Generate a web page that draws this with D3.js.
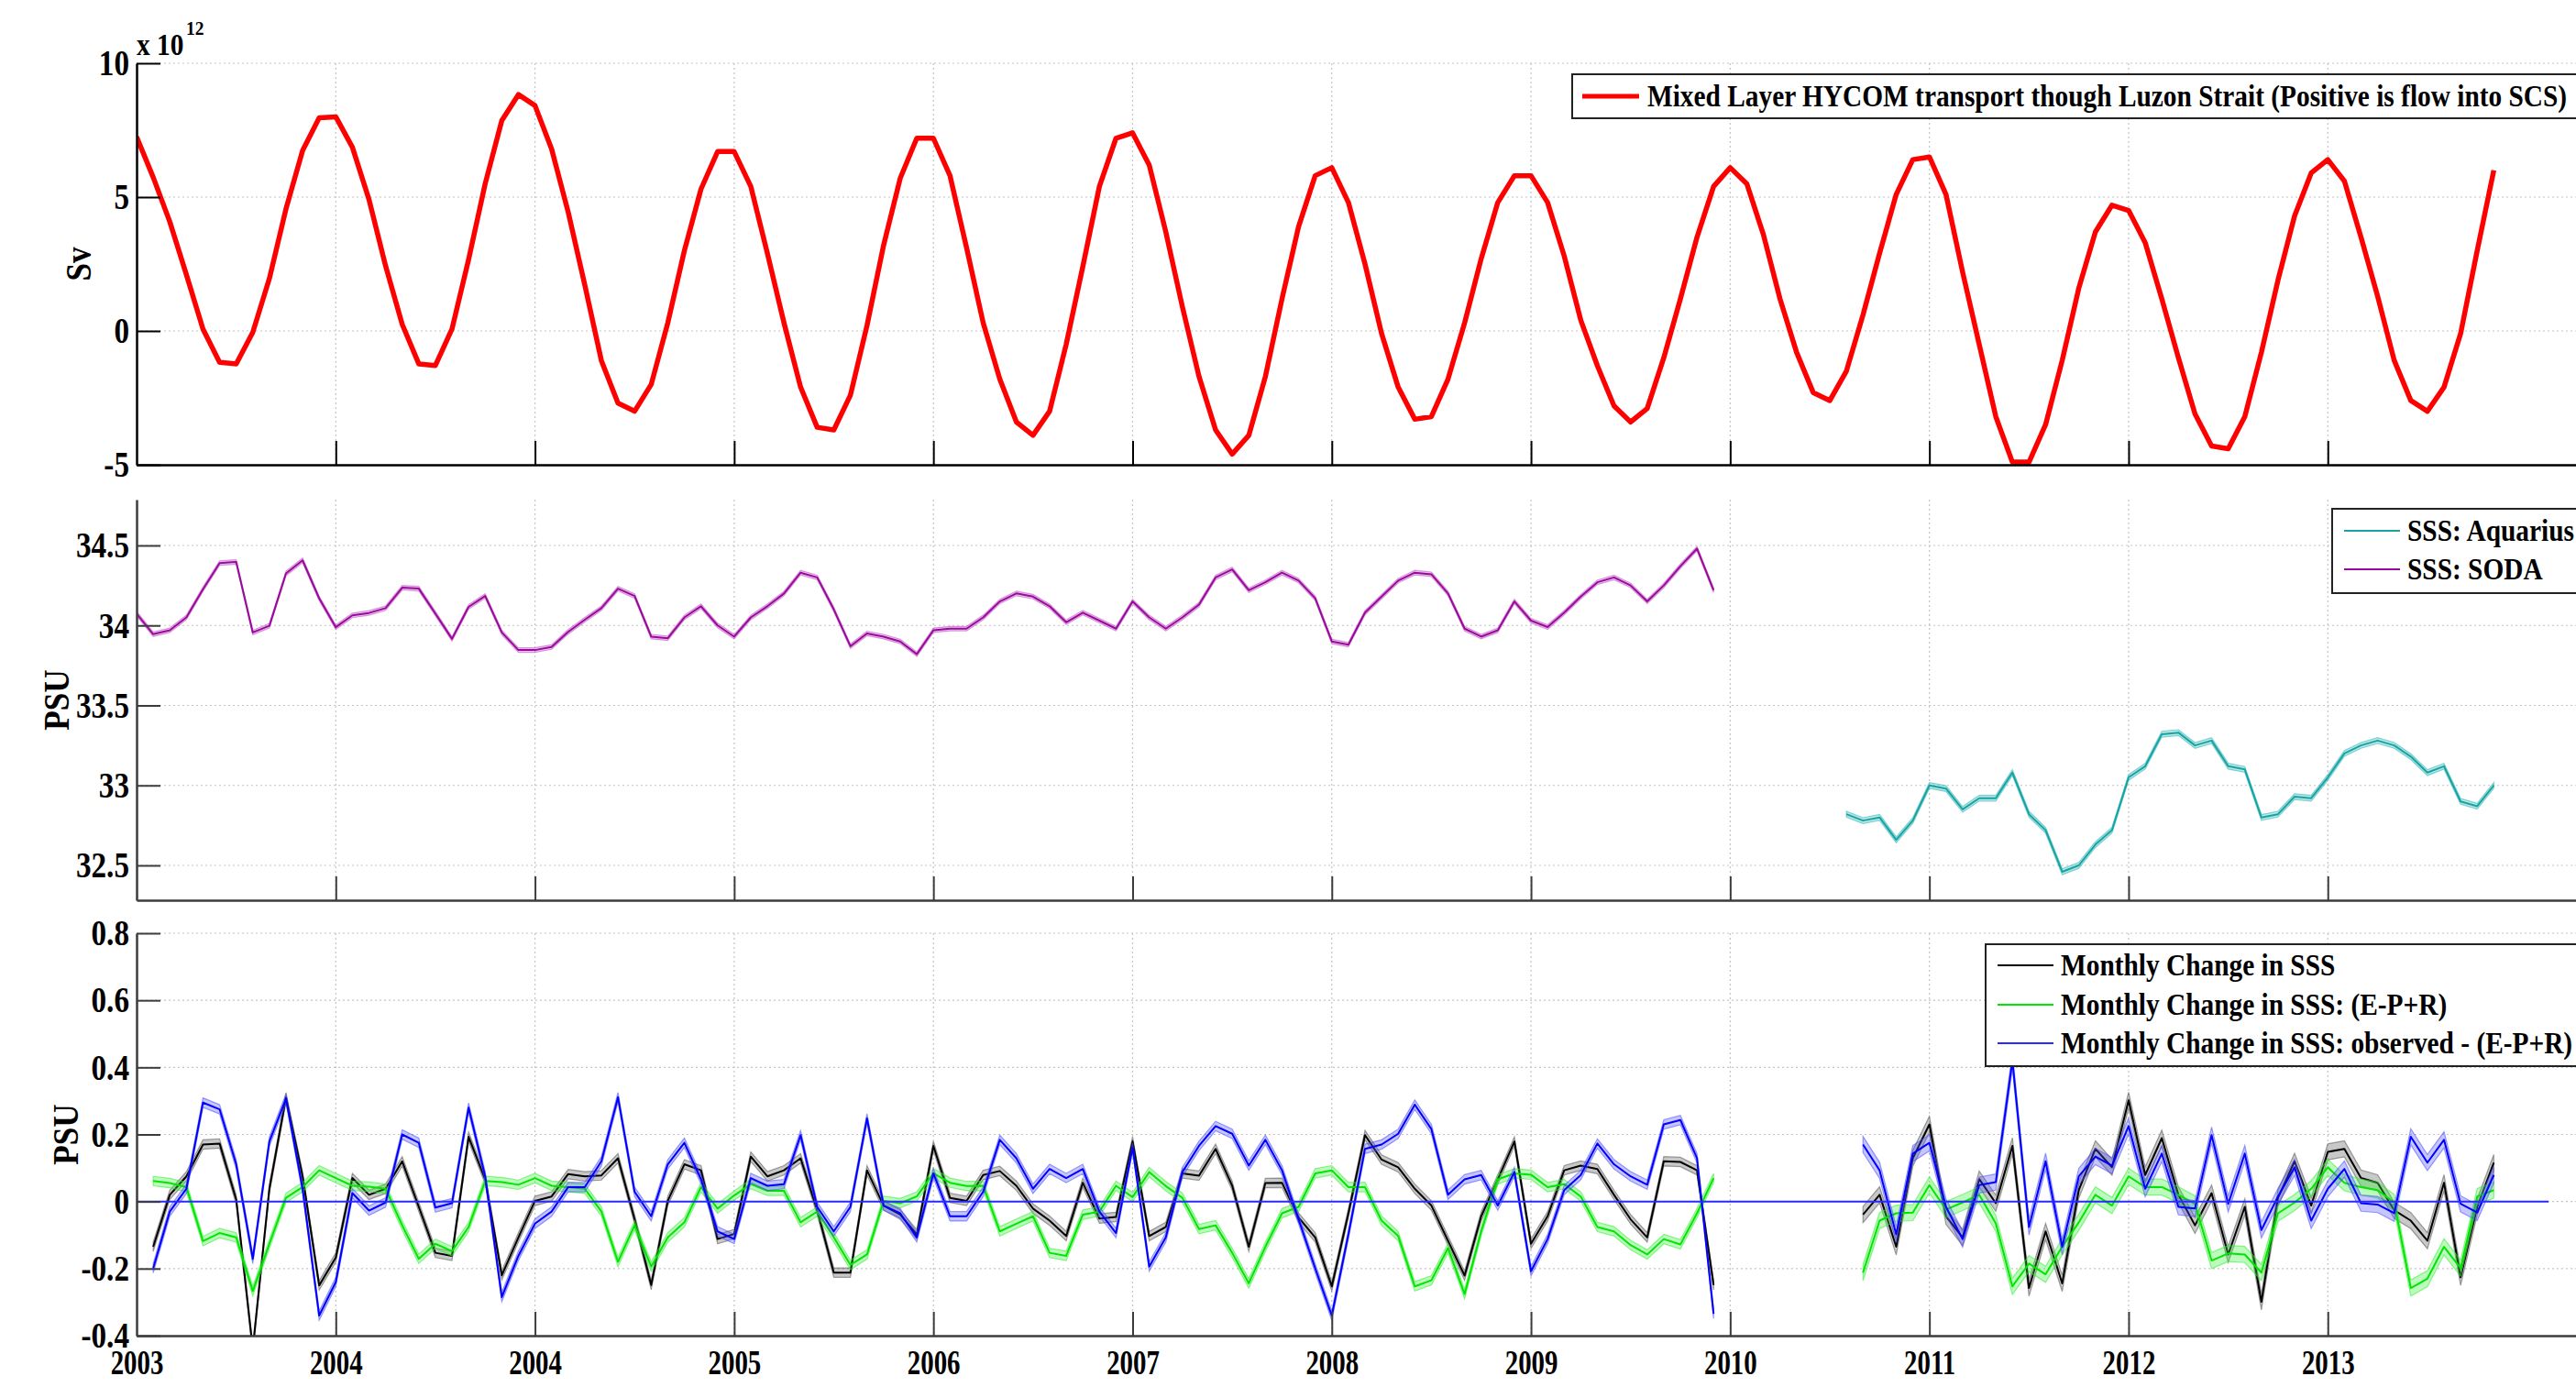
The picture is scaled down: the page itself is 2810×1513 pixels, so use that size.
<!DOCTYPE html>
<html>
<head>
<meta charset="utf-8">
<script src="https://cdn.jsdelivr.net/npm/d3@7/dist/d3.min.js"></script>
<style>
  html, body { margin: 0; padding: 0; background: #fff; overflow: hidden; }
  svg { display: block; }
  text { font-family: "Liberation Serif", "Times New Roman", serif; font-weight: bold; fill: #000; }
</style>
</head>
<body>
<svg id="chart" width="2810" height="1513"></svg>
<script>
// x ticks (one every 12 months from Jan 2003) and their labels, as printed.
var tickMonths = [0, 12, 24, 36, 48, 60, 72, 84, 96, 108, 120, 132];
var tickLabels = ["2003", "2004", "2004", "2005", "2006", "2007", "2008", "2009", "2010", "2011", "2012", "2013"];

// mixed layer transport, months 0..142 (units of 1e12)
var transport = [7.25, 5.74, 4.08, 2.1, 0.07, -1.17, -1.23, -0.05, 1.96, 4.56,
  6.74, 7.96, 8.0, 6.86, 4.91, 2.43, 0.25, -1.23, -1.29, 0.07,
  2.67, 5.5, 7.86, 8.83, 8.42, 6.8, 4.44, 1.72, -1.11, -2.7,
  -3.0, -2.0, 0.3, 3.0, 5.3, 6.7, 6.7, 5.4, 2.9, 0.3,
  -2.1, -3.6, -3.7, -2.4, 0.2, 3.2, 5.7, 7.2, 7.2, 5.8,
  3.1, 0.3, -1.8, -3.4, -3.9, -3.0, -0.5, 2.4, 5.4, 7.2,
  7.4, 6.2, 3.7, 0.9, -1.7, -3.7, -4.6, -3.9, -1.7, 1.2,
  3.9, 5.8, 6.1, 4.8, 2.5, -0.1, -2.1, -3.3, -3.2, -1.8,
  0.3, 2.7, 4.8, 5.8, 5.8, 4.8, 2.8, 0.4, -1.3, -2.8,
  -3.4, -2.9, -1.0, 1.2, 3.5, 5.4, 6.1, 5.5, 3.6, 1.2,
  -0.8, -2.3, -2.6, -1.5, 0.6, 2.9, 5.1, 6.4, 6.5, 5.1,
  2.2, -0.5, -3.2, -4.9, -4.9, -3.5, -1.1, 1.6, 3.7, 4.7,
  4.5, 3.3, 1.2, -1.0, -3.1, -4.3, -4.4, -3.2, -0.8, 1.9,
  4.3, 5.9, 6.4, 5.6, 3.5, 1.3, -1.1, -2.6, -3.0, -2.1,
  -0.1, 3.0, 6.0];

// SSS from SODA, months 0..95
var sodaStart = 0;
var sodaSSS = [34.074, 33.945, 33.97, 34.05, 34.226, 34.39, 34.397, 33.956, 33.998, 34.325,
  34.407, 34.169, 33.989, 34.063, 34.078, 34.108, 34.236, 34.23, 34.074, 33.916,
  34.116, 34.184, 33.956, 33.846, 33.846, 33.865, 33.96, 34.036, 34.108, 34.23,
  34.184, 33.93, 33.92, 34.05, 34.12, 34.0, 33.93, 34.05, 34.12, 34.2,
  34.33, 34.3, 34.1, 33.87, 33.95, 33.93, 33.9, 33.82, 33.97, 33.98,
  33.98, 34.05, 34.15, 34.2, 34.18, 34.12, 34.02, 34.08, 34.03, 33.98,
  34.15, 34.05, 33.98, 34.05, 34.13, 34.3, 34.35, 34.22, 34.27, 34.33,
  34.28, 34.17, 33.9, 33.88, 34.08, 34.18, 34.28, 34.33, 34.32, 34.2,
  33.98, 33.93, 33.97, 34.15, 34.03, 33.99, 34.08, 34.18, 34.27, 34.3,
  34.25, 34.15, 34.25, 34.37, 34.48, 34.22];

// SSS from Aquarius, months 103..142
var aquariusStart = 103;
var aquariusSSS = [32.82, 32.78, 32.8, 32.66, 32.78, 33.0, 32.98, 32.85, 32.92, 32.92,
  33.08, 32.82, 32.72, 32.46, 32.5, 32.63, 32.72, 33.05, 33.12, 33.32,
  33.33, 33.25, 33.28, 33.12, 33.1, 32.8, 32.82, 32.93, 32.92, 33.05,
  33.2, 33.25, 33.28, 33.25, 33.18, 33.08, 33.12, 32.9, 32.87, 33.0];

// monthly changes: first block months 1..95, second block months 104..142
var block1Start = 1;
var block2Start = 104;

var dSSS1 = [-0.135, 0.02, 0.075, 0.17, 0.173, 0.006, -0.44, 0.038, 0.31, 0.075,
  -0.25, -0.167, 0.07, 0.02, 0.038, 0.12, -0.016, -0.153, -0.162, 0.193,
  0.066, -0.22, -0.107, 0.002, 0.015, 0.082, 0.075, 0.078, 0.129, -0.053,
  -0.249, 0.002, 0.111, 0.093, -0.112, -0.097, 0.134, 0.075, 0.093, 0.129,
  -0.026, -0.212, -0.212, 0.093, -0.012, -0.039, -0.098, 0.166, 0.011, 0.002,
  0.079, 0.091, 0.047, -0.021, -0.057, -0.103, 0.056, -0.051, -0.046, 0.179,
  -0.103, -0.076, 0.084, 0.077, 0.157, 0.047, -0.135, 0.055, 0.056, -0.048,
  -0.107, -0.253, -0.035, 0.198, 0.125, 0.102, 0.038, -0.012, -0.117, -0.221,
  -0.044, 0.066, 0.179, -0.126, -0.044, 0.093, 0.107, 0.097, 0.02, -0.053,
  -0.107, 0.12, 0.118, 0.093, -0.249];
var dSSS2 = [-0.039, 0.02, -0.135, 0.129, 0.23, -0.044, -0.107, 0.067, -0.005, 0.166,
  -0.258, -0.089, -0.244, 0.034, 0.157, 0.102, 0.302, 0.079, 0.189, 0.02,
  -0.071, 0.025, -0.158, -0.016, -0.299, 0.011, 0.12, -0.012, 0.148, 0.157,
  0.07, 0.056, -0.026, -0.057, -0.117, 0.056, -0.226, -0.016, 0.116];

var dEPR1 = [0.061, 0.055, 0.043, -0.118, -0.094, -0.107, -0.267, -0.126, 0.011, 0.043,
  0.093, 0.07, 0.047, 0.044, 0.038, -0.071, -0.171, -0.126, -0.148, -0.076,
  0.061, 0.058, 0.05, 0.07, 0.047, 0.043, 0.038, -0.03, -0.18, -0.071,
  -0.194, -0.107, -0.062, 0.043, -0.021, 0.018, 0.052, 0.032, 0.032, -0.062,
  -0.03, -0.107, -0.189, -0.158, 0.002, -0.005, 0.015, 0.084, 0.056, 0.046,
  0.047, -0.089, -0.066, -0.044, -0.153, -0.162, -0.039, -0.03, 0.047, 0.013,
  0.088, 0.046, 0.011, -0.082, -0.071, -0.153, -0.244, -0.135, -0.035, -0.016,
  0.084, 0.093, 0.043, 0.043, -0.057, -0.103, -0.253, -0.235, -0.139, -0.276,
  -0.089, 0.066, 0.084, 0.08, 0.043, 0.052, 0.015, -0.076, -0.089, -0.13,
  -0.158, -0.112, -0.128, -0.035, 0.07];
var dEPR2 = [-0.212, -0.057, -0.035, -0.033, 0.049, -0.024, -0.003, 0.02, -0.065, -0.253,
  -0.185, -0.217, -0.135, -0.062, 0.02, -0.012, 0.075, 0.043, 0.043, 0.02,
  -0.007, -0.176, -0.155, -0.158, -0.212, -0.035, -0.003, 0.038, 0.102, 0.056,
  0.043, 0.034, -0.003, -0.258, -0.23, -0.135, -0.199, 0.015, 0.034];

var dResid1 = [-0.199, -0.03, 0.038, 0.295, 0.275, 0.111, -0.171, 0.179, 0.307, 0.038,
  -0.34, -0.24, 0.025, -0.027, -0.003, 0.2, 0.175, -0.018, -0.005, 0.28,
  0.075, -0.285, -0.162, -0.066, -0.03, 0.043, 0.043, 0.12, 0.311, 0.029,
  -0.044, 0.111, 0.175, 0.066, -0.089, -0.112, 0.07, 0.047, 0.052, 0.198,
  -0.016, -0.089, -0.016, 0.248, -0.012, -0.035, -0.107, 0.084, -0.044, -0.044,
  0.029, 0.184, 0.129, 0.038, 0.097, 0.07, 0.097, -0.03, -0.094, 0.161,
  -0.194, -0.107, 0.088, 0.166, 0.225, 0.202, 0.107, 0.184, 0.093, -0.053,
  -0.199, -0.34, -0.098, 0.157, 0.17, 0.202, 0.289, 0.216, 0.02, 0.066,
  0.079, -0.012, 0.088, -0.208, -0.112, 0.034, 0.079, 0.173, 0.111, 0.075,
  0.05, 0.23, 0.243, 0.129, -0.335];
var dResid2 = [0.17, 0.093, -0.098, 0.143, 0.175, -0.016, -0.112, 0.049, 0.058, 0.42,
  -0.076, 0.12, -0.135, 0.075, 0.134, 0.107, 0.225, 0.038, 0.143, -0.016,
  -0.021, 0.198, -0.007, 0.143, -0.085, 0.015, 0.102, -0.057, 0.038, 0.097,
  -0.005, -0.009, -0.035, 0.193, 0.116, 0.184, -0.007, -0.033, 0.079];

// half width of the shaded error band around each curve
var bandSODA = 0.014;
var bandAquarius = 0.018;
var bandBlock1 = 0.014;
var bandBlock2 = 0.024;

// horizontal reference line at zero, from / to month
var zeroLineMonths = [0, 145.3];

var svg = d3.select("#chart");

// font size and horizontal squeeze for each kind of text
var legendFont = {size: 33, sx: 0.89};
var tickFont = {size: 40, sx: 0.83};
var yearFont = {size: 37, sx: 0.78};
var titleFont = {size: 40, sx: 0.88};

svg.append("rect").attr("width", 2810).attr("height", 1513).attr("fill", "#fff");

var x = d3.scaleLinear().domain([0, 148]).range([149, 149 + 148 * 18.108]);
var plotLeft = 149, plotRight = x(148);

var toPoints = function(values, start) {
  return values.map(function(v, i) { return {m: start + i, v: v}; });
};

// condense text horizontally (the figure text looks narrowed)
var condense = function(sel, font) {
  sel.style("font-size", font.size + "px");
  sel.each(function() {
    var t = d3.select(this);
    var tx = +t.attr("x") || 0;
    var ty = +t.attr("y") || 0;
    t.attr("x", 0).attr("y", 0)
      .attr("transform", "translate(" + tx + "," + ty + ") scale(" + font.sx + ",1)");
  });
};

var label = function(g, str, px, py, anchor, font) {
  var t = g.append("text").attr("x", px).attr("y", py)
    .attr("text-anchor", anchor || "start")
    .text(str);
  condense(t, font || legendFont);
  return t;
};

var fmt = function(d) { return String(+d.toFixed(2)); };

var makePanel = function(opts) {
  var y0 = d3.scaleLinear().domain(opts.domain).range(opts.range);
  var y = y0.copy().domain([y0.invert(opts.bottom), y0.invert(opts.top)]).range([opts.bottom, opts.top]);
  var g = svg.append("g");
  var id = "clip" + opts.name;
  svg.append("clipPath").attr("id", id).append("rect")
    .attr("x", plotLeft).attr("y", opts.top)
    .attr("width", plotRight - plotLeft).attr("height", opts.bottom - opts.top);

  // dotted grid
  var grid = g.append("g").attr("stroke", "#c4c4c4").attr("stroke-width", 1.2)
    .attr("stroke-dasharray", "2,3");
  grid.selectAll("line.gx").data(tickMonths.slice(1)).enter().append("line")
    .attr("x1", function(d) { return x(d); }).attr("x2", function(d) { return x(d); })
    .attr("y1", opts.top).attr("y2", opts.bottom);
  grid.selectAll("line.gy").data(opts.ticks.filter(function(d) { return y(d) < opts.bottom - 1; }))
    .enter().append("line")
    .attr("x1", plotLeft).attr("x2", plotRight)
    .attr("y1", function(d) { return y(d); }).attr("y2", function(d) { return y(d); });

  var plot = g.append("g").attr("clip-path", "url(#" + id + ")");

  // axes: ticks drawn inward
  var yAxis = d3.axisLeft(y).tickValues(opts.ticks).tickSizeInner(-26).tickSizeOuter(0)
    .tickPadding(8).tickFormat(fmt);
  var ya = g.append("g").attr("transform", "translate(" + plotLeft + ",0)").call(yAxis);
  var xAxis = d3.axisBottom(x).tickValues(tickMonths).tickSizeInner(-26).tickSizeOuter(0)
    .tickPadding(16).tickFormat(opts.xLabels ? function(d, i) { return tickLabels[i]; } : "");
  var xa = g.append("g").attr("transform", "translate(0," + opts.bottom + ")").call(xAxis);
  [ya, xa].forEach(function(a) {
    a.attr("font-size", null).attr("font-family", null);
    a.selectAll("path.domain").attr("stroke", opts.axisColor).attr("stroke-width", 2.5);
    a.selectAll(".tick line").attr("stroke", opts.axisColor).attr("stroke-width", 2);
    a.selectAll("text").attr("fill", "#000");
  });
  condense(ya.selectAll("text"), tickFont);
  condense(xa.selectAll("text"), yearFont);
  xa.selectAll(".tick").filter(function(d) { return d === 0; }).select("line").remove();

  // axis title
  g.append("text").style("font-size", titleFont.size + "px").attr("text-anchor", "middle")
    .attr("transform", "translate(" + opts.titleX + "," + ((opts.top + opts.bottom) / 2) + ") rotate(-90) scale(" + titleFont.sx + ",1)")
    .text(opts.title);

  return {y: y, plot: plot, g: g};
};

var drawSeries = function(panel, points, color, bandColor, half, width) {
  var y = panel.y;
  if (half > 0) {
    var area = d3.area()
      .x(function(d) { return x(d.m); })
      .y0(function(d) { return y(d.v - half); })
      .y1(function(d) { return y(d.v + half); });
    panel.plot.append("path").datum(points).attr("d", area)
      .attr("fill", bandColor).attr("fill-opacity", 0.32)
      .attr("stroke", bandColor).attr("stroke-opacity", 0.55).attr("stroke-width", 1.2);
  }
  var line = d3.line().x(function(d) { return x(d.m); }).y(function(d) { return y(d.v); });
  panel.plot.append("path").datum(points).attr("d", line)
    .attr("fill", "none").attr("stroke", color).attr("stroke-width", width)
    .attr("stroke-linejoin", "round");
};

var legend = function(items, bx, by, bh, rowY, sx1, sx2, tx) {
  var lg = svg.append("g");
  lg.append("rect").attr("x", bx).attr("y", by).attr("width", 2840 - bx).attr("height", bh)
    .attr("fill", "#fff").attr("stroke", "#222").attr("stroke-width", 2);
  items.forEach(function(it, i) {
    lg.append("line").attr("x1", sx1).attr("x2", sx2).attr("y1", rowY[i]).attr("y2", rowY[i])
      .attr("stroke", it.color).attr("stroke-width", it.width);
    label(lg, it.text, tx, rowY[i] + 11);
  });
};

// ---- top panel: transport
var panelA = makePanel({name: "a", domain: [-5, 10], range: [507, 69], top: 69, bottom: 507,
  ticks: [-5, 0, 5, 10], title: "Sv", titleX: 99, axisColor: "#000"});
drawSeries(panelA, toPoints(transport, 0), "#ff0000", null, 0, 5.5);
label(svg, "x 10", 149, 60);
label(svg, "12", 203, 38, "start", {size: 22, sx: 0.89});
legend([{text: "Mixed Layer HYCOM transport though Luzon Strait (Positive is flow into SCS)", color: "#ff0000", width: 5}],
  1715, 81, 48, [105], 1726, 1788, 1797);

// ---- middle panel: SSS
var panelB = makePanel({name: "b", domain: [32.5, 34.5], range: [944, 595], top: 545, bottom: 982,
  ticks: [32.5, 33, 33.5, 34, 34.5], title: "PSU", titleX: 75, axisColor: "#3c3c3c"});
drawSeries(panelB, toPoints(aquariusSSS, aquariusStart), "#17a3a3", "#2bb5b5", bandAquarius, 2);
drawSeries(panelB, toPoints(sodaSSS, sodaStart), "#9a0a9a", "#c050c8", bandSODA, 2);
legend([{text: "SSS: Aquarius", color: "#17a3a3", width: 2}, {text: "SSS: SODA", color: "#9a0a9a", width: 2}],
  2544, 555, 92, [579, 621], 2557, 2618, 2626);

// ---- bottom panel: monthly changes
var panelC = makePanel({name: "c", domain: [-0.4, 0.8], range: [1457, 1018], top: 1018, bottom: 1457,
  ticks: [-0.4, -0.2, 0, 0.2, 0.4, 0.6, 0.8], title: "PSU", titleX: 85, axisColor: "#3c3c3c", xLabels: true});
[[dSSS1, dEPR1, dResid1, block1Start, bandBlock1], [dSSS2, dEPR2, dResid2, block2Start, bandBlock2]].forEach(function(b) {
  drawSeries(panelC, toPoints(b[0], b[3]), "#000000", "#555555", b[4], 2);
  drawSeries(panelC, toPoints(b[1], b[3]), "#00e600", "#33ee33", b[4], 2);
  drawSeries(panelC, toPoints(b[2], b[3]), "#0000ff", "#4d4dff", b[4], 2);
});
panelC.plot.append("line")
  .attr("x1", x(zeroLineMonths[0])).attr("x2", x(zeroLineMonths[1]))
  .attr("y1", panelC.y(0)).attr("y2", panelC.y(0))
  .attr("stroke", "#2a2aff").attr("stroke-width", 2);
legend([{text: "Monthly Change in SSS", color: "#000", width: 2},
  {text: "Monthly Change in SSS: (E-P+R)", color: "#00e600", width: 2},
  {text: "Monthly Change in SSS: observed - (E-P+R)", color: "#2a2aff", width: 2}],
  2166, 1030, 133, [1053, 1096, 1138], 2179, 2240, 2248);
</script>
</body>
</html>
